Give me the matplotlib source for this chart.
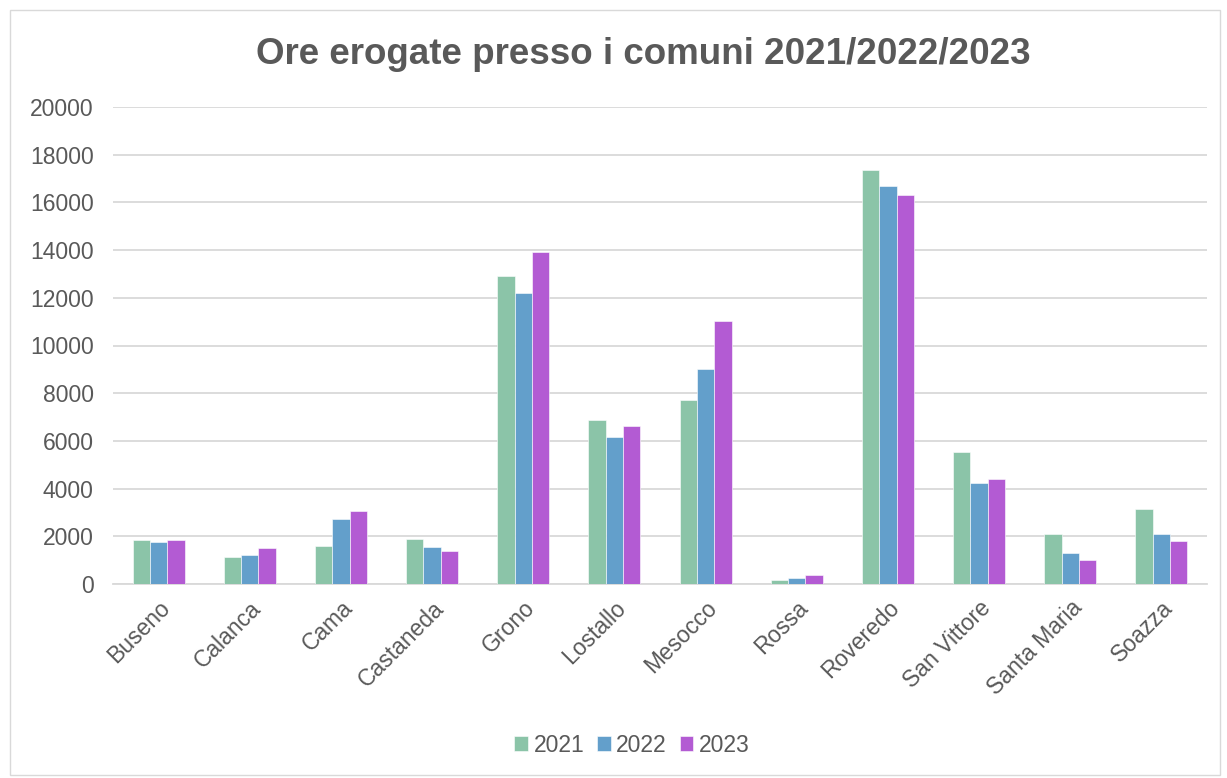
import numpy as np
import matplotlib.pyplot as plt
from matplotlib.patches import Rectangle

plt.rcParams['font.family'] = ['Liberation Sans', 'DejaVu Sans']

comuni = ['Buseno', 'Calanca', 'Cama', 'Castaneda', 'Grono', 'Lostallo',
          'Mesocco', 'Rossa', 'Roveredo', 'San Vittore', 'Santa Maria', 'Soazza']
ore_2021 = [1845, 1145, 1610, 1885, 12930, 6875, 7700, 170, 17360, 5520, 2080, 3160]
ore_2022 = [1750, 1230, 2710, 1550, 12200, 6165, 9000, 250, 16675, 4220, 1300, 2095]
ore_2023 = [1845, 1495, 3060, 1400, 13935, 6625, 11015, 365, 16310, 4390, 1005, 1790]
anni = ['2021', '2022', '2023']
colori = ['#8BC4A8', '#639FCB', '#B35BD3']
testo = '#595959'

fig = plt.figure(figsize=(12.27, 7.78), dpi=100)
ax = fig.add_axes([113 / 1227, 1 - 584 / 778, 1094 / 1227, 477 / 778])

# bordo esterno del grafico
fig.patches.append(Rectangle((10 / 1227, 3 / 778), 1210 / 1227, 765 / 778,
                             transform=fig.transFigure, fill=False,
                             edgecolor='#D9D9D9', linewidth=1))

x = np.arange(len(comuni))
w = 0.19
for i, (vals, anno) in enumerate(zip([ore_2021, ore_2022, ore_2023], anni)):
    ax.bar(x + (i - 1) * w, vals, w, color=colori[i], label=anno,
           edgecolor='white', linewidth=0.4, zorder=3)

ax.set_xlim(-0.5, len(comuni) - 0.5)
ax.set_ylim(0, 20000)
ax.set_yticks(range(0, 20001, 2000))
ax.yaxis.grid(True, color='#D9D9D9', linewidth=1.3, zorder=0)
for s in ['top', 'right', 'left']:
    ax.spines[s].set_visible(False)
ax.spines['bottom'].set_color('#D9D9D9')
ax.spines['bottom'].set_linewidth(1.3)
ax.tick_params(axis='both', length=0, labelsize=16.5, colors=testo)
ax.tick_params(axis='y', pad=14)
ax.tick_params(axis='x', pad=9)
ax.set_xticks(x)
ax.set_xticklabels(comuni, rotation=45, ha='right', rotation_mode='anchor')

fig.text(0.524, 1 - 55 / 778, 'Ore erogate presso i comuni 2021/2022/2023',
         ha='center', va='center', fontsize=26.5, fontweight='bold', color=testo)

fig.legend(loc='center', bbox_to_anchor=(0.515, 1 - 745 / 778), ncol=3,
           frameon=False, fontsize=16.5, labelcolor=testo,
           handlelength=0.6, handleheight=0.6, handletextpad=0.25,
           columnspacing=0.55)

fig.savefig('out.png', dpi=100)
